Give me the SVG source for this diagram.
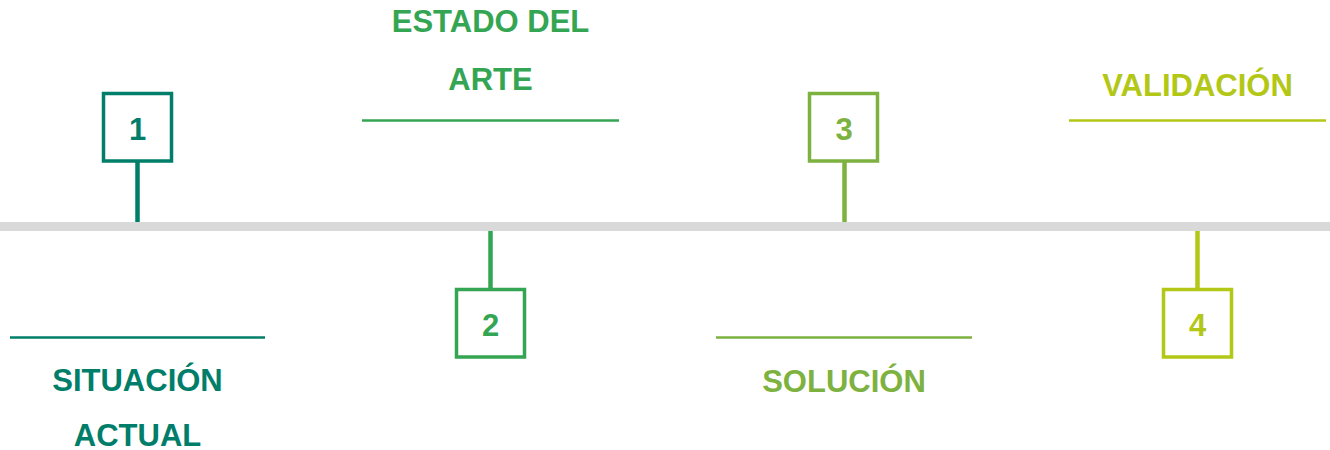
<svg xmlns="http://www.w3.org/2000/svg" width="1330" height="450" viewBox="0 0 1330 450">
<style>
text{font-family:"Liberation Sans",Arial,sans-serif;font-weight:bold;font-size:31px;text-anchor:middle}
.box{fill:#fff;stroke-width:3.5}
.t1{fill:#007e69}
.t2{fill:#34a552}
.t3{fill:#7db241}
.t4{fill:#b3c716}
</style>
<rect x="0" y="222" width="1330" height="9" fill="#d9d9d9"/>
<g id="connectors" stroke-width="4.5">
<line x1="137.5" y1="162" x2="137.5" y2="222" stroke="#007e69"/>
<line x1="490.5" y1="231" x2="490.5" y2="288" stroke="#34a552"/>
<line x1="844.5" y1="162" x2="844.5" y2="222" stroke="#7db241"/>
<line x1="1197.5" y1="231" x2="1197.5" y2="288" stroke="#b3c716"/>
</g>
<g id="node1">
<rect class="box" x="103.5" y="93.5" width="68" height="67.5" stroke="#007e69"/>
<text class="t1" x="137.5" y="140">1</text>
<line x1="10" y1="337.5" x2="265" y2="337.5" stroke="#007e69" stroke-width="2.5"/>
<text class="t1" x="137.5" y="391">SITUACIÓN</text>
<text class="t1" x="137.5" y="446">ACTUAL</text>
</g>
<g id="node2">
<rect class="box" x="456.5" y="289.5" width="68" height="67.5" stroke="#34a552"/>
<text class="t2" x="490.5" y="336">2</text>
<line x1="362" y1="120.5" x2="619" y2="120.5" stroke="#34a552" stroke-width="2.5"/>
<text class="t2" x="490.5" y="32">ESTADO DEL</text>
<text class="t2" x="490.5" y="90">ARTE</text>
</g>
<g id="node3">
<rect class="box" x="809.5" y="93.5" width="68" height="67.5" stroke="#7db241"/>
<text class="t3" x="844" y="140">3</text>
<line x1="716" y1="337.5" x2="972" y2="337.5" stroke="#7db241" stroke-width="2.5"/>
<text class="t3" x="844" y="392">SOLUCIÓN</text>
</g>
<g id="node4">
<rect class="box" x="1163.5" y="289.5" width="68" height="67.5" stroke="#b3c716"/>
<text class="t4" x="1197.5" y="336">4</text>
<line x1="1069" y1="120.5" x2="1326" y2="120.5" stroke="#b3c716" stroke-width="2.5"/>
<text class="t4" x="1197.5" y="96">VALIDACIÓN</text>
</g>
</svg>
